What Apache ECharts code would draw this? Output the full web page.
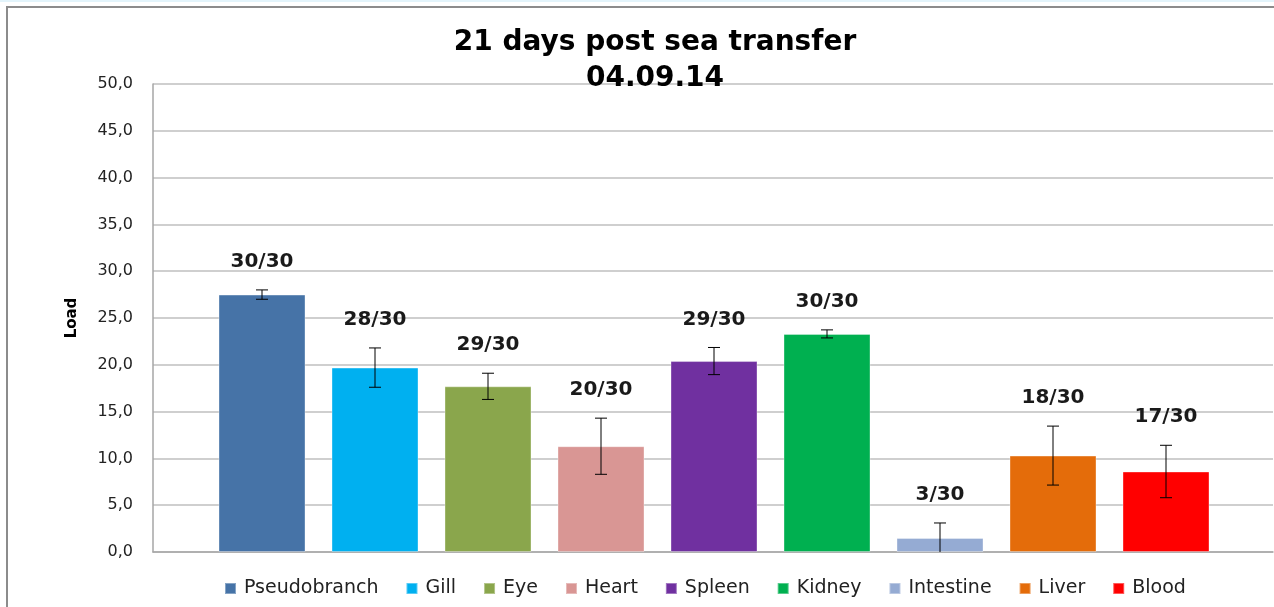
<!DOCTYPE html>
<html>
<head>
<meta charset="utf-8">
<script src="https://cdn.jsdelivr.net/npm/echarts@6/dist/echarts.min.js"></script>
<style>html,body{margin:0;padding:0;background:#fff;}#c{width:1274px;height:607px;}</style>
</head>
<body>
<div id="c"></div>
<script>
var organs = ['Pseudobranch','Gill','Eye','Heart','Spleen','Kidney','Intestine','Liver','Blood'];
var loads = [27.5, 19.7, 17.7, 11.3, 20.4, 23.3, 1.5, 10.3, 8.6];
var errors = [0.5, 2.1, 1.4, 3.0, 1.45, 0.43, 1.6, 3.15, 2.8];
var positives = ['30/30','28/30','29/30','20/30','29/30','30/30','3/30','18/30','17/30'];
var colors = ['#4673a7','#00b0f0','#8aa64c','#d99694','#7030a0','#00b050','#95abd3','#e46c0a','#ff0000'];
var yTicks = {min: 0, max: 50, interval: 5};

var chart = echarts.init(document.getElementById('c'));
var FONT = 'DejaVu Sans';

var series = organs.map(function (name, i) {
  var d = organs.map(function (_, j) { return j === i ? loads[i] : '-'; });
  return {
    name: name, type: 'bar', xAxisIndex: 1, yAxisIndex: 1, stack: 'all',
    barWidth: 87, data: d,
    itemStyle: {color: colors[i], borderColor: 'rgba(255,255,255,0.35)', borderWidth: 1}
  };
});

series.push({
  type: 'custom', xAxisIndex: 1, yAxisIndex: 1, z: 10,
  data: organs.map(function (_, i) { return [i, loads[i], errors[i], positives[i]]; }),
  renderItem: function (params, api) {
    var i = api.value(0), v = api.value(1), e = api.value(2);
    var lo = Math.max(0, v - e), hi = v + e;
    var pHi = api.coord([i, hi]);
    var pLo = api.coord([i, lo]);
    var x = pHi[0], cap = 6;
    var children = [
      {type: 'line', shape: {x1: x, y1: pHi[1], x2: x, y2: pLo[1]}, style: {stroke: '#000', lineWidth: 1}},
      {type: 'line', shape: {x1: x - cap, y1: pHi[1], x2: x + cap, y2: pHi[1]}, style: {stroke: '#000', lineWidth: 1}}
    ];
    if (v - e > 0) {
      children.push({type: 'line', shape: {x1: x - cap, y1: pLo[1], x2: x + cap, y2: pLo[1]}, style: {stroke: '#000', lineWidth: 1}});
    }
    children.push({
      type: 'text',
      style: {x: x, y: pHi[1] - 28, text: positives[params.dataIndex], textAlign: 'center', textVerticalAlign: 'middle',
        font: 'bold 20px "DejaVu Sans"', fill: '#1a1a1a'}
    });
    return {type: 'group', children: children};
  }
});

chart.setOption({
  animation: false,
  backgroundColor: '#fff',
  title: {
    text: '21 days post sea transfer\n04.09.14',
    left: 650, top: 20, textAlign: 'center',
    textStyle: {fontFamily: FONT, fontWeight: 'bold', fontSize: 28, color: '#000', lineHeight: 36}
  },
  graphic: [
    {type: 'rect', left: 0, top: 0, shape: {width: 1274, height: 2}, style: {fill: '#e3f4fb'}, silent: true},
    {type: 'polyline', shape: {points: [[7, 607], [7, 7], [1274, 7]]}, style: {stroke: '#8c8c8c', lineWidth: 2, fill: null}, silent: true}
  ],
  legend: {
    data: organs, left: 219, top: 574, icon: 'rect', itemWidth: 11, itemHeight: 11, itemGap: 27,
    textStyle: {fontFamily: FONT, fontSize: 19, color: '#222', padding: [0, 0, 0, 3]}
  },
  grid: [
    {left: 153, right: 1, top: 84, bottom: 55},
    {left: 205.5, width: 1017, top: 84, bottom: 55}
  ],
  xAxis: [
    {type: 'category', gridIndex: 0, data: [''], axisLine: {lineStyle: {color: '#a6a6a6', width: 1.5}}, axisTick: {show: false}, axisLabel: {show: false}},
    {type: 'category', gridIndex: 1, data: organs, show: false}
  ],
  yAxis: [
    {type: 'value', gridIndex: 0, min: yTicks.min, max: yTicks.max, interval: yTicks.interval,
      name: 'Load', nameLocation: 'middle', nameGap: 73, nameRotate: 90,
      nameTextStyle: {fontFamily: FONT, fontWeight: 'bold', fontSize: 15, color: '#000'},
      axisLine: {show: true, lineStyle: {color: '#a6a6a6', width: 1.5}}, axisTick: {show: false},
      axisLabel: {fontFamily: FONT, fontSize: 16, color: '#222', margin: 20,
        formatter: function (v) { return v.toFixed(1).replace('.', ','); }},
      splitLine: {lineStyle: {color: '#bfbfbf', width: 1.5}}},
    {type: 'value', gridIndex: 1, min: yTicks.min, max: yTicks.max, interval: yTicks.interval, show: false, splitLine: {show: false}}
  ],
  series: series
});
</script>
</body>
</html>
